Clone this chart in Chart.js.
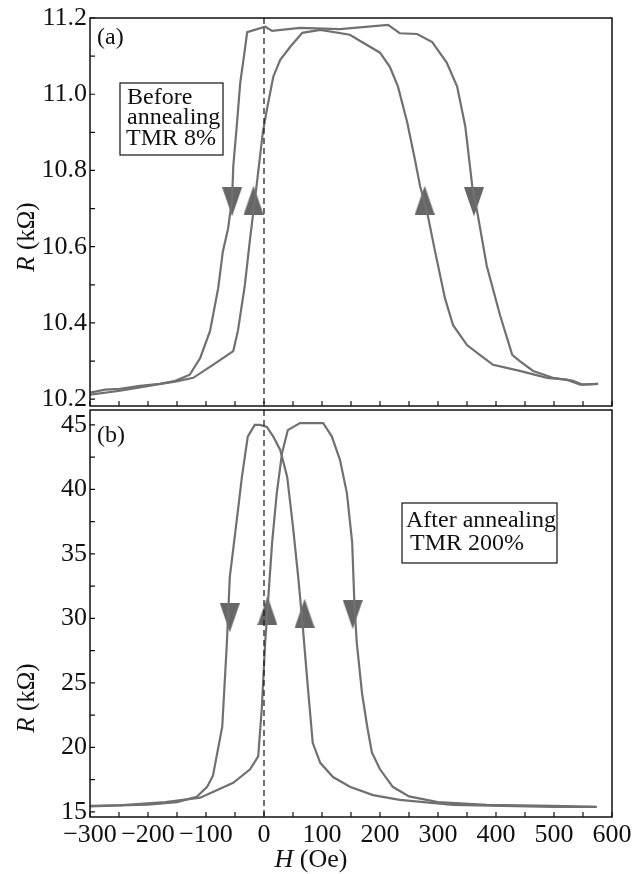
<!DOCTYPE html>
<html>
<head>
<meta charset="utf-8">
<script src="https://cdn.jsdelivr.net/npm/chart.js@4.4.0/dist/chart.umd.min.js"></script>
<style>
  html, body { margin: 0; padding: 0; background: #fff; }
  #wrap { position: relative; width: 640px; height: 874px; }
  #wrap canvas { position: absolute; left: 0; }
</style>
</head>
<body>
<div id="wrap">
  <canvas id="topChart" width="640" height="412" style="top:0"></canvas>
  <canvas id="bottomChart" width="640" height="474" style="top:400px"></canvas>
</div>
<script>
// ---- axis ticks ----
const H_TICKS = [-300, -200, -100, 0, 100, 200, 300, 400, 500, 600];
const H_MINOR = [-300, -250, -200, -150, -100, -50, 0, 50, 100, 150, 200, 250, 300, 350, 400, 450, 500, 550, 600];
const R_TICKS_A = [10.2, 10.4, 10.6, 10.8, 11.0, 11.2];
const R_MINOR_A = [10.2, 10.3, 10.4, 10.5, 10.6, 10.7, 10.8, 10.9, 11.0, 11.1, 11.2];
const R_TICKS_B = [15, 20, 25, 30, 35, 40, 45];
const R_MINOR_B = [15, 17.5, 20, 22.5, 25, 27.5, 30, 32.5, 35, 37.5, 40, 42.5, 45];

// ---- (a) before annealing: two branches ----
const A1_H = [-300, -274, -248, -214, -179, -153, -128, -110, -93, -79, -71, -62, -55, -53, -47, -41, -33, -29, 2, 14, 62, 131, 214, 234, 264, 290, 315, 333, 347, 359, 369, 384, 407, 428, 441, 464, 498, 533, 550, 576];
const A1_R = [10.217, 10.225, 10.227, 10.235, 10.24, 10.248, 10.264, 10.308, 10.379, 10.491, 10.587, 10.647, 10.725, 10.811, 10.916, 11.03, 11.117, 11.163, 11.177, 11.166, 11.174, 11.171, 11.182, 11.16, 11.158, 11.137, 11.083, 11.02, 10.916, 10.76, 10.68, 10.55, 10.42, 10.316, 10.30, 10.274, 10.256, 10.248, 10.238, 10.24];
const A2_H = [-300, -248, -214, -179, -153, -122, -88, -53, -45, -33, -24, -12, -2, 5, 16, 28, 45, 66, 97, 148, 171, 200, 217, 231, 247, 260, 269, 281, 295, 312, 326, 350, 372, 395, 441, 488, 522, 545, 576];
const A2_R = [10.212, 10.222, 10.231, 10.24, 10.246, 10.256, 10.29, 10.326, 10.379, 10.499, 10.621, 10.77, 10.9, 10.96, 11.046, 11.09, 11.124, 11.161, 11.169, 11.156, 11.135, 11.109, 11.072, 11.02, 10.926, 10.83, 10.76, 10.692, 10.587, 10.465, 10.394, 10.342, 10.316, 10.29, 10.274, 10.256, 10.251, 10.238, 10.24];
const A_ARROW_H = [-55, -18, 277, 362];
const A_ARROW_R = [10.718, 10.722, 10.722, 10.718];
const A_ARROW_DIR = ['down', 'up', 'up', 'down'];

// ---- (b) after annealing: two branches ----
const B1_H = [-300, -250, -200, -150, -116, -98, -88, -72, -64, -59, -47, -38, -28, -16, -7, 5, 16, 28, 40, 50, 59, 67, 74, 84, 97, 119, 148, 188, 234, 326, 498, 574];
const B1_R = [15.46, 15.5, 15.55, 15.75, 16.16, 16.94, 17.8, 21.6, 28.1, 33.2, 37.6, 41.0, 44.1, 45.0, 45.0, 44.85, 44.1, 43.06, 40.97, 37.1, 33.2, 29.3, 25.5, 20.35, 18.8, 17.7, 16.94, 16.3, 15.93, 15.54, 15.39, 15.39];
const B2_H = [-300, -250, -170, -110, -53, -24, -10, -4, 2, 8, 14, 22, 31, 41, 62, 102, 117, 131, 143, 152, 156, 160, 169, 178, 186, 200, 222, 250, 300, 384, 498, 571];
const B2_R = [15.42, 15.5, 15.75, 16.1, 17.25, 18.3, 19.3, 22.9, 28.1, 32.0, 35.9, 39.7, 42.8, 44.6, 45.15, 45.15, 44.1, 42.3, 39.7, 35.9, 31.0, 28.1, 24.2, 21.6, 19.6, 18.3, 16.94, 16.2, 15.75, 15.54, 15.46, 15.39];
const B_ARROW_H = [-59, 6, 70, 153];
const B_ARROW_R = [30.05, 30.6, 30.4, 30.3];
const B_ARROW_DIR = ['down', 'up', 'up', 'down'];

const SERIF = "'Liberation Serif', 'Times New Roman', serif";
const CURVE = '#707070';
const INK = '#111';

function pts(hs, rs) {
  return hs.map((h, i) => ({ x: h, y: rs[i] }));
}

// triangle markers as small canvases
function triangle(dir) {
  const c = document.createElement('canvas');
  c.width = 20; c.height = 29;
  const g = c.getContext('2d');
  g.fillStyle = '#666';
  g.beginPath();
  if (dir === 'down') { g.moveTo(0, 0); g.lineTo(20, 0); g.lineTo(10, 29); }
  else { g.moveTo(10, 0); g.lineTo(20, 29); g.lineTo(0, 29); }
  g.closePath();
  g.fill();
  return c;
}
const TRI = { up: triangle('up'), down: triangle('down') };

function curve(data) {
  return { data, showLine: true, borderColor: CURVE, borderWidth: 2.2, pointRadius: 0, tension: 0, fill: false };
}

function arrows(hs, rs, dirs) {
  return { data: pts(hs, rs), showLine: false, pointRadius: 5, pointStyle: dirs.map(d => TRI[d]) };
}

// italic symbol + upright unit, centred at (0,0) of current transform
function mixedLabel(ctx, sym, rest, size) {
  ctx.font = 'italic ' + size + 'px ' + SERIF;
  const w1 = ctx.measureText(sym).width;
  ctx.font = size + 'px ' + SERIF;
  const w2 = ctx.measureText(rest).width;
  const sx = -(w1 + w2) / 2;
  ctx.font = 'italic ' + size + 'px ' + SERIF;
  ctx.fillText(sym, sx, 0);
  ctx.font = size + 'px ' + SERIF;
  ctx.fillText(rest, sx + w1, 0);
}

function deco(cfg) {
  return {
    id: 'deco',
    afterDatasetsDraw(chart) {
      const { ctx, chartArea: a, scales: { x, y } } = chart;
      ctx.save();
      // dashed line at H = 0
      const x0 = x.getPixelForValue(0);
      ctx.strokeStyle = INK;
      ctx.lineWidth = 1.2;
      ctx.setLineDash([6, 4]);
      ctx.beginPath(); ctx.moveTo(x0, a.top); ctx.lineTo(x0, a.bottom); ctx.stroke();
      ctx.setLineDash([]);
      // frame + inward ticks
      ctx.lineWidth = 1.5;
      ctx.strokeRect(a.left, a.top, a.right - a.left, a.bottom - a.top);
      ctx.lineWidth = 1.2;
      ctx.beginPath();
      H_MINOR.forEach(v => { const px = x.getPixelForValue(v); ctx.moveTo(px, a.bottom); ctx.lineTo(px, a.bottom - 5); });
      cfg.yMinor.forEach(v => { const py = y.getPixelForValue(v); ctx.moveTo(a.left, py); ctx.lineTo(a.left + 5, py); });
      ctx.stroke();
      // panel tag
      ctx.fillStyle = INK;
      ctx.font = '24px ' + SERIF;
      ctx.textBaseline = 'middle';
      ctx.textAlign = 'left';
      ctx.fillText(cfg.tag.text, cfg.tag.x, cfg.tag.y);
      // note box
      const b = cfg.box;
      ctx.lineWidth = 1.2;
      ctx.strokeRect(b.x, b.y, b.w, b.h);
      b.lines.forEach(l => ctx.fillText(l.text, l.x, l.y));
      // y title  R (kΩ)
      ctx.save();
      ctx.translate(cfg.yTitle.x, cfg.yTitle.y);
      ctx.rotate(-Math.PI / 2);
      mixedLabel(ctx, 'R', ' (k\u03A9)', 25);
      ctx.restore();
      // x title  H (Oe)
      if (cfg.xTitle) {
        ctx.save();
        ctx.translate(cfg.xTitle.x, cfg.xTitle.y);
        mixedLabel(ctx, 'H', ' (Oe)', 26);
        ctx.restore();
      }
      ctx.restore();
    }
  };
}

function options(yMin, yMax, yTicks, fmt, pad, showX) {
  return {
    responsive: false,
    animation: false,
    layout: { padding: pad },
    plugins: { legend: { display: false }, tooltip: { enabled: false } },
    scales: {
      x: {
        type: 'linear', min: -300, max: 600, display: showX,
        afterBuildTicks: s => { s.ticks = H_TICKS.map(v => ({ value: v })); },
        afterFit: s => { s.height = showX ? 57 : 0; s.paddingLeft = 0; s.paddingRight = 0; },
        grid: { display: false, drawTicks: false },
        border: { display: false },
        ticks: {
          autoSkip: false, maxRotation: 0, padding: 3, color: INK,
          font: { family: SERIF, size: 26 },
          callback: v => String(v).replace('-', '\u2212')
        }
      },
      y: {
        type: 'linear', min: yMin, max: yMax,
        afterBuildTicks: s => { s.ticks = yTicks.map(v => ({ value: v })); },
        afterFit: s => { s.width = 90; s.paddingTop = 0; s.paddingBottom = 0; },
        grid: { display: false, drawTicks: false },
        border: { display: false },
        ticks: { padding: 3, color: INK, font: { family: SERIF, size: 26 }, callback: fmt }
      }
    }
  };
}

new Chart(document.getElementById('topChart'), {
  type: 'scatter',
  data: {
    datasets: [
      curve(pts(A1_H, A1_R)),
      curve(pts(A2_H, A2_R)),
      arrows(A_ARROW_H, A_ARROW_R, A_ARROW_DIR)
    ]
  },
  options: options(10.182, 11.2, R_TICKS_A, v => Number(v).toFixed(1), { top: 18, right: 28, bottom: 3, left: 0 }, false),
  plugins: [deco({
    yMinor: R_MINOR_A,
    tag: { text: '(a)', x: 97, y: 38 },
    box: {
      x: 120, y: 83, w: 103, h: 72,
      lines: [
        { text: 'Before', x: 127, y: 98 },
        { text: 'annealing', x: 127, y: 118 },
        { text: 'TMR 8%', x: 126, y: 139 }
      ]
    },
    yTitle: { x: 27, y: 237 }
  })]
});

new Chart(document.getElementById('bottomChart'), {
  type: 'scatter',
  data: {
    datasets: [
      curve(pts(B1_H, B1_R)),
      curve(pts(B2_H, B2_R)),
      arrows(B_ARROW_H, B_ARROW_R, B_ARROW_DIR)
    ]
  },
  options: options(14.6, 46.16, R_TICKS_B, v => String(v), { top: 10, right: 28, bottom: 0, left: 0 }, true),
  plugins: [deco({
    yMinor: R_MINOR_B,
    tag: { text: '(b)', x: 97, y: 36 },
    box: {
      x: 402, y: 103, w: 155, h: 60,
      lines: [
        { text: 'After annealing', x: 406, y: 121 },
        { text: 'TMR 200%', x: 410, y: 144 }
      ]
    },
    yTitle: { x: 27, y: 298 },
    xTitle: { x: 311, y: 460 }
  })]
});
</script>
</body>
</html>
